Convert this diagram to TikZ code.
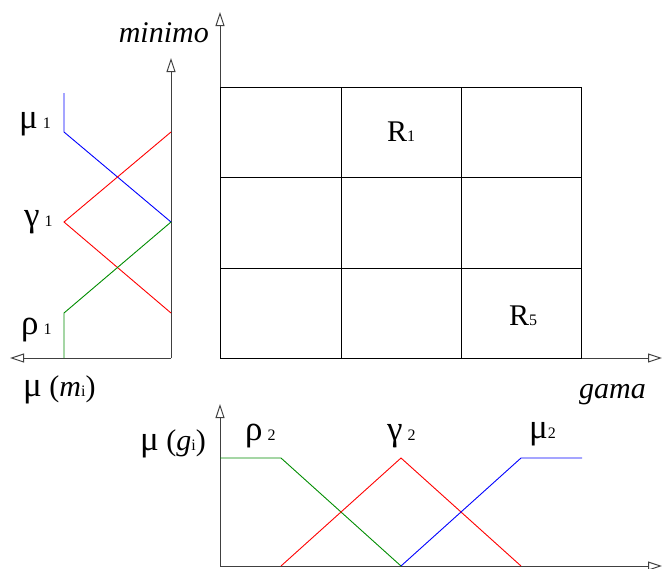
\documentclass[tikz,border=0pt]{standalone}
\usepackage{fontspec}
\setmainfont{Liberation Serif}
\usetikzlibrary{arrows.meta}
\newcommand{\bigf}{\fontsize{30}{32}\selectfont}
\newcommand{\grk}[1]{{\fontsize{35}{35}\selectfont #1}}
\newcommand{\subf}[1]{{\fontsize{16}{16}\selectfont #1}}
\begin{document}
\begin{tikzpicture}[x=1pt,y=-1pt,
  axis/.style={line width=1pt,draw=black!75,-{Triangle[open,length=14pt,width=9pt]}},
  gridline/.style={line width=1pt,draw=black},
  mf/.style={line width=0.9pt},
  lbl/.style={inner sep=0pt,anchor=base west,font=\bigf}]
\useasboundingbox (0,0) rectangle (663,568);
% coordinates
\coordinate (lo) at (171,358);
\coordinate (ltip) at (10,358);
\coordinate (utip) at (171,58);
\coordinate (mo) at (220,358);
\coordinate (mtop) at (220,12);
\coordinate (mright) at (662,358);
\coordinate (bo) at (220,566);
\coordinate (btop) at (220,404);
\coordinate (bright) at (662,566);
% left membership plot
\draw[axis] (lo) -- (utip);
\draw[axis] (lo) -- (ltip);
\draw[mf,blue] (64,93) -- (64,132) -- (171,222);
\draw[mf,red] (171,132) -- (64,222) -- (171,313);
\draw[mf,green!55!black] (64,358) -- (64,313) -- (171,222);
% main axes and grid
\draw[axis] (mo) -- (mtop);
\draw[axis] (mo) -- (mright);
\draw[gridline] (220,87) rectangle (581,358);
\draw[gridline] (341,87) -- (341,358) (461,87) -- (461,358)
  (220,177) -- (581,177) (220,268) -- (581,268);
% bottom membership plot
\draw[axis] (bo) -- (btop);
\draw[axis] (bo) -- (bright);
\draw[mf,green!55!black] (220,458) -- (281,458) -- (401,566);
\draw[mf,red] (281,566) -- (401,458) -- (521,566);
\draw[mf,blue] (401,566) -- (521,458) -- (582,458);
% labels
\node[lbl,anchor=base east,font=\fontsize{30}{30}\selectfont\itshape] (minimo) at (209,42) {minimo};
\node[lbl,anchor=base east,font=\fontsize{30}{30}\selectfont\itshape] (gama) at (646,398) {gama};
\node[lbl] (mu1) at (19,128) {\grk{μ}\,\subf{1}};
\node[lbl] (ga1) at (24,226) {\grk{γ}\,\subf{1}};
\node[lbl] (rho1) at (21,334) {\grk{ρ}\,\subf{1}};
\node[lbl] (mumi) at (23,396) {\grk{μ} (\textit{m}\subf{i})};
\node[lbl] (mugi) at (140,450) {\grk{μ} (\textit{g}\subf{i})};
\node[lbl] (rho2) at (245,440) {\grk{ρ}\,\subf{2}};
\node[lbl] (ga2) at (387,440) {\grk{γ}\,\subf{2}};
\node[lbl] (mu2) at (529,438) {\grk{μ}\subf{2}};
\node[lbl] (r1) at (387,141) {R\subf{1}};
\node[lbl] (r5) at (509,325) {R\subf{5}};
\end{tikzpicture}
\end{document}
